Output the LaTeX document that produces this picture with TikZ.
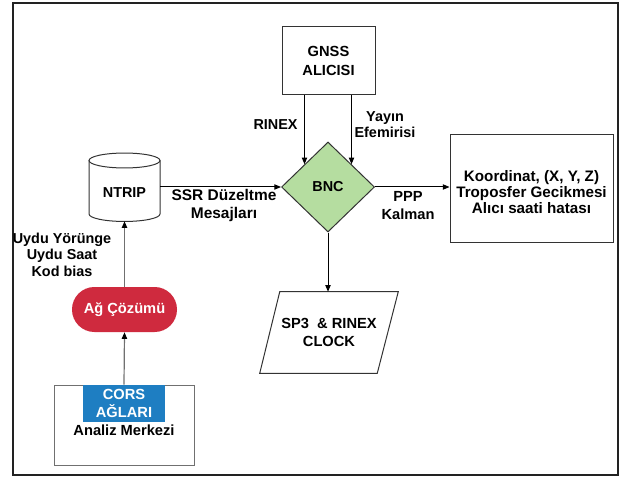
\documentclass[tikz,border=0pt]{standalone}
\usepackage{fontspec}
\setmainfont{Liberation Sans}
\usetikzlibrary{arrows.meta,shapes.geometric,calc}
\definecolor{bncgreen}{HTML}{B5DDA0}
\definecolor{agred}{HTML}{CF2A3E}
\definecolor{corsblue}{HTML}{1E7EC2}
\definecolor{frameline}{HTML}{222222}
\definecolor{boxline}{HTML}{333333}
\definecolor{grayline}{HTML}{707070}
\begin{document}
\begin{tikzpicture}[x=0.75pt,y=-0.75pt,
  every node/.style={font=\fontsize{10.8pt}{13pt}\selectfont\bfseries, align=center, inner sep=0pt},
  gbox/.style={draw=boxline, line width=0.75pt, fill=white},
  bncshape/.style={diamond, draw=boxline, line width=0.75pt, fill=bncgreen, minimum width=93*0.75pt, minimum height=90*0.75pt},
  lbl/.style={},
  arr/.style={draw=black, line width=0.75pt, -{Triangle[length=5pt,width=4pt]}},
  garr/.style={draw=grayline, line width=0.9pt, -{Triangle[length=5pt,width=4pt,fill=black,color=black]}}
]
\useasboundingbox (0,0) rectangle (620,477);
\draw[draw=frameline, line width=1.5pt] (13,3) rectangle (618,475);

% GNSS receiver
\node[gbox, minimum width=93*0.75pt, minimum height=68*0.75pt, font=\fontsize{11pt}{14.25pt}\selectfont\bfseries] (gnss) at (328.5,61) {GNSS\\ALICISI};

% BNC
\node[bncshape] (bnc) at (328,187) {BNC};
\draw[arr] (gnss.south -| bnc.north west) -- (bnc.north west);
\draw[arr] (gnss.south -| bnc.north east) -- (bnc.north east);
\node[lbl] (rinexl) at (275.5,125) {RINEX};
\node[lbl, font=\fontsize{10.8pt}{12pt}\selectfont\bfseries] (yayinl) at (385,125) {Yayın\\Efemirisi};

% NTRIP cylinder
\node[minimum width=71*0.75pt, minimum height=68*0.75pt] (ntrip) at (124.5,187) {};
\draw[draw=boxline, line width=0.75pt] (89,160.5) -- (89,214) arc[start angle=180, end angle=360, x radius=26.625pt, y radius=5.6pt] -- (160,160.5);
\draw[draw=boxline, line width=0.75pt] (124.5,160.5) ellipse[x radius=26.625pt, y radius=5.6pt];
\node (ntript) at (124.5,193) {NTRIP};
\draw[arr] (ntrip.east) -- (bnc.west);
\node[lbl, font=\fontsize{11.6pt}{13.5pt}\selectfont\bfseries] (ssrl) at (224,206) {SSR Düzeltme\\Mesajları};

% Result box
\node[gbox, minimum width=163*0.75pt, minimum height=107*0.75pt] (res) at (531.5,188.5) {};
\node[font=\fontsize{11.4pt}{12pt}\selectfont\bfseries] (rest) at (531.5,192) {Koordinat, (X, Y, Z)\\Troposfer Gecikmesi\\Alıcı saati hatası};
\draw[arr] (bnc.east) -- (bnc.east -| res.west);
\node[lbl, font=\fontsize{11pt}{13.5pt}\selectfont\bfseries] (pppl) at (408,206) {PPP\\Kalman};

% SP3 parallelogram
\node[minimum width=138*0.75pt, minimum height=81*0.75pt, font=\fontsize{11pt}{13.5pt}\selectfont\bfseries] (sp3) at (329,332.5) {SP3\ \ \& RINEX\\CLOCK};
\draw[draw=boxline, line width=0.75pt] ([xshift=15pt]sp3.north west) -- (sp3.north east) -- ([xshift=-15.75pt]sp3.south east) -- (sp3.south west) -- cycle;
\draw[arr] (bnc.south) -- (bnc.south |- sp3.north);

% Ag Cozumu
\node[fill=agred, text=white, rounded corners=16.8pt, minimum width=105*0.75pt, minimum height=45*0.75pt, font=\fontsize{11pt}{13pt}\selectfont\bfseries] (ag) at (124.5,309.5) {Ağ Çözümü};
\draw[garr] (ag.north) -- (ntrip.south);
\node[lbl, font=\fontsize{10.8pt}{12.4pt}\selectfont\bfseries] (uydul) at (62,254.5) {Uydu Yörünge\\Uydu Saat\\Kod bias};

% CORS / Analiz Merkezi
\node[gbox, draw=grayline, minimum width=140*0.75pt, minimum height=80*0.75pt] (merkez) at (124,425) {};
\node[fill=corsblue, text=white, minimum width=82*0.75pt, minimum height=37*0.75pt, font=\fontsize{11pt}{13.5pt}\selectfont\bfseries] (cors) at (124,403.5) {CORS\\AĞLARI};
\node[lbl, font=\fontsize{11pt}{13pt}\selectfont\bfseries] (analiz) at (124,430) {Analiz Merkezi};
\draw[garr] (cors.north) -- (ag.south);
\end{tikzpicture}
\end{document}
